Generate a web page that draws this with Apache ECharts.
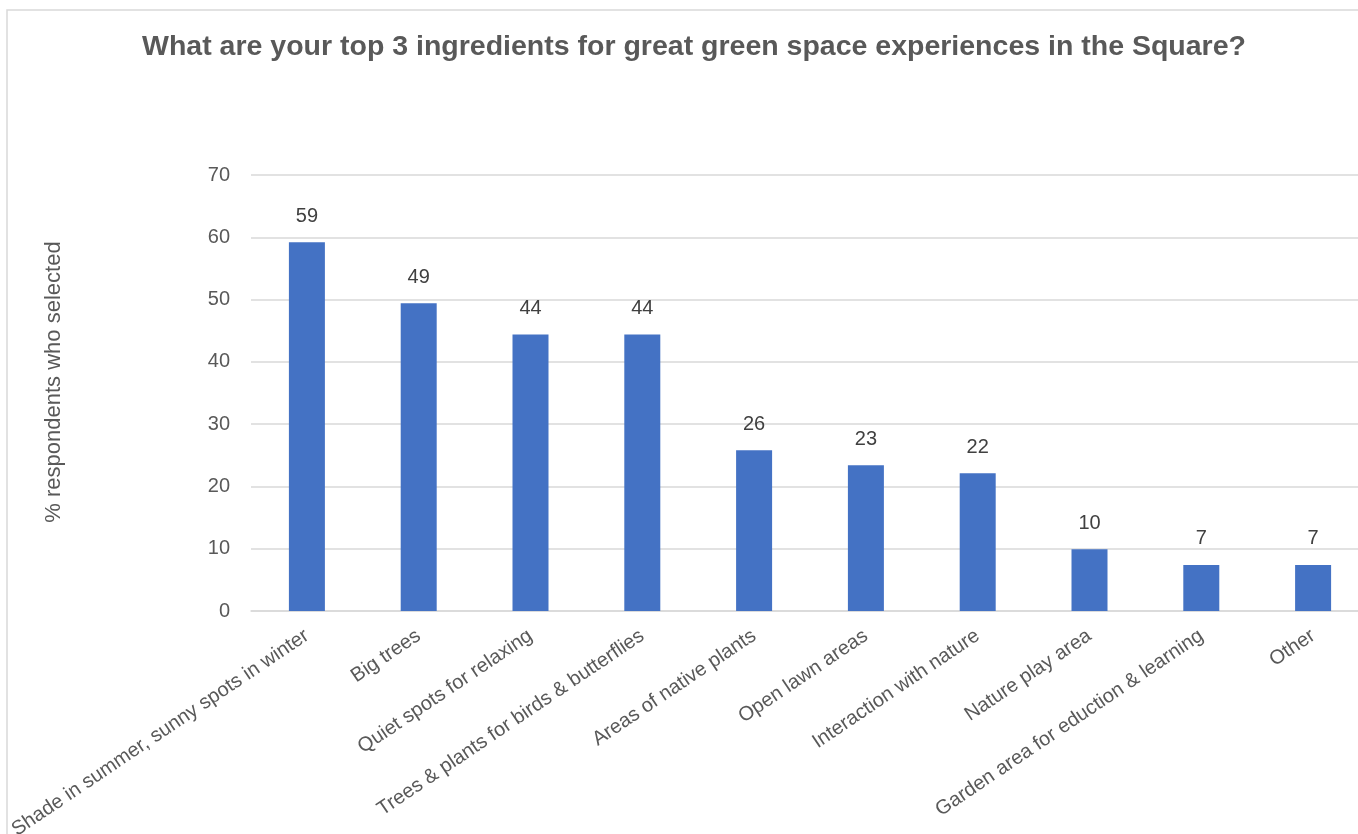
<!DOCTYPE html>
<html>
<head>
<meta charset="utf-8">
<script src="https://cdn.jsdelivr.net/npm/echarts@6/dist/echarts.min.js"></script>
<style>html,body{margin:0;padding:0;background:#fff}#c{width:1358px;height:834px}</style>
</head>
<body>
<div id="c"></div>
<script>
const titleText = 'What are your top 3 ingredients for great green space experiences in the Square?';
const categories = [
  'Shade in summer, sunny spots in winter',
  'Big trees',
  'Quiet spots for relaxing',
  'Trees & plants for birds & butterflies',
  'Areas of native plants',
  'Open lawn areas',
  'Interaction with nature',
  'Nature play area',
  'Garden area for eduction & learning',
  'Other'
];
const values = [59.2, 49.4, 44.4, 44.4, 25.8, 23.4, 22.1, 9.9, 7.4, 7.4];
const yAxisName = '% respondents who selected';

const FONT = '"Liberation Sans", Arial, sans-serif';
const TXT = '#595959';
const chart = echarts.init(document.getElementById('c'), null, {renderer: 'canvas'});
chart.setOption({
  animation: false,
  backgroundColor: '#fff',
  graphic: [{
    type: 'rect', silent: true, z: -1,
    shape: {x: 7, y: 10, width: 1400, height: 900},
    style: {fill: 'none', stroke: '#D9D9D9', lineWidth: 1.5}
  }],
  title: {
    text: titleText, left: 689, top: 28, textAlign: 'center',
    textStyle: {fontFamily: FONT, fontSize: 28.5, fontWeight: 'bold', color: TXT}
  },
  grid: {left: 251, top: 175, width: 1118, height: 436, containLabel: false, outerBoundsMode: 'none'},
  xAxis: {
    type: 'category', data: categories,
    axisLine: {show: true, lineStyle: {color: '#D9D9D9', width: 1.5}},
    axisTick: {show: false},
    axisLabel: {interval: 0, rotate: 34, margin: 23, color: TXT, fontFamily: FONT, fontSize: 20, padding: [0, 0, 0, 10]}
  },
  yAxis: {
    type: 'value', min: 0, max: 70, interval: 10,
    name: yAxisName, nameLocation: 'middle', nameGap: 186,
    nameTextStyle: {color: TXT, fontFamily: FONT, fontSize: 22, padding: [0, 0, 0, 22]},
    axisLine: {show: false}, axisTick: {show: false},
    axisLabel: {color: TXT, fontFamily: FONT, fontSize: 20, margin: 21, padding: [8, 0, 0, 0]},
    splitLine: {lineStyle: {color: '#D9D9D9', width: 1.5}}
  },
  series: [{
    type: 'bar', data: values, barWidth: 36,
    itemStyle: {color: '#4472C4'},
    label: {
      show: true, position: 'top', distance: 16,
      color: '#404040', fontFamily: FONT, fontSize: 20,
      formatter: p => Math.round(p.value)
    }
  }]
});
</script>
</body>
</html>
